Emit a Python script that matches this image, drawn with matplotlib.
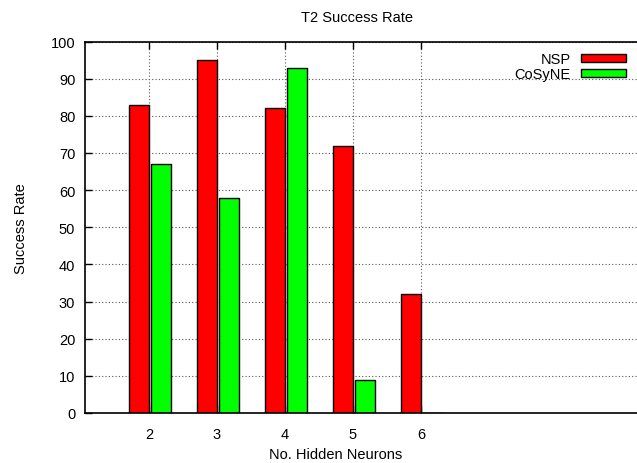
import numpy as np
import matplotlib
matplotlib.use("Agg")
from matplotlib import pyplot as plt

plt.rcParams['font.family'] = ['Liberation Sans', 'DejaVu Sans']

neurons = ["2", "3", "4", "5", "6"]
nsp = [83, 95, 82, 72, 32]
cosyne = [67, 58, 93, 9, 0]

fig = plt.figure(figsize=(6.37, 4.64), dpi=100)
# right edge runs past the picture, like the cropped original
ax = fig.add_axes([85/637, 50/464, 555/637, 371.5/464])

x = np.arange(len(neurons))
w = 0.295
ax.bar(x - w/2, nsp, w, color="#ff0000", edgecolor="black", linewidth=1, label="NSP", zorder=2)
ax.bar(x + 0.035 + w/2, cosyne, w, color="#00ff00", edgecolor="black", linewidth=1, label="CoSyNE", zorder=2)

ax.set_xlim(-0.94, 7.22)
ax.set_ylim(0, 100)
ax.set_xticks(x)
ax.set_xticklabels(neurons)
ax.set_yticks(range(0, 101, 10))
ax.grid(True, linestyle=(0, (1, 2)), color="#555555", linewidth=0.8, zorder=0)
ax.set_axisbelow(True)
ax.tick_params(direction="in", length=5, width=1, labelsize=10.5, top=True)
ax.tick_params(axis="x", pad=10)
ax.tick_params(axis="y", pad=7)
ax.spines['right'].set_visible(False)
for s in ['left', 'bottom', 'top']:
    ax.spines[s].set_linewidth(1.2)

ax.set_title("T2 Success Rate", fontsize=10.5, pad=15, x=0.49)
ax.set_xlabel("No. Hidden Neurons", fontsize=10.5, va="center")
ax.xaxis.set_label_coords(0.452, -0.11)
ax.set_ylabel("Success Rate", fontsize=10.5, labelpad=16)

ax.legend(loc="upper right", bbox_to_anchor=(632/637, 1 - 47/464), bbox_transform=fig.transFigure,
          frameon=False, markerfirst=False, fontsize=10.5, handlelength=3.1, handleheight=0.5,
          labelspacing=0.1, borderaxespad=0, handletextpad=0.7)

fig.savefig("out.png", dpi=100)
